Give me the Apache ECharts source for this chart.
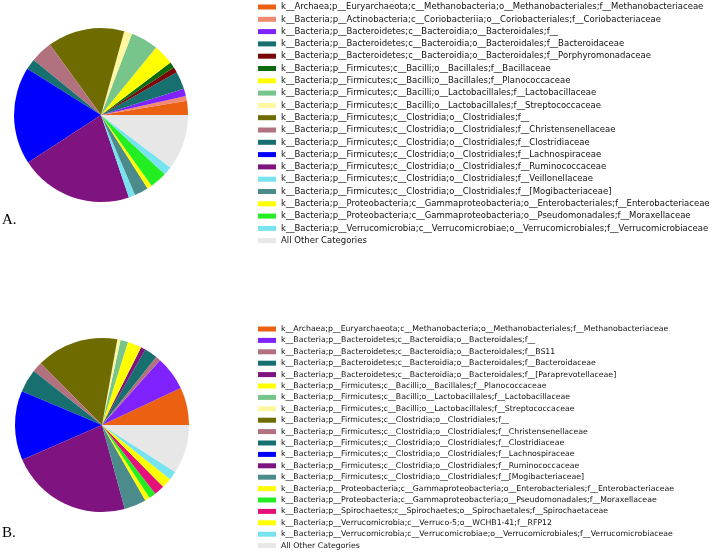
<!DOCTYPE html>
<html>
<head>
<meta charset="utf-8">
<script src="https://cdn.jsdelivr.net/npm/echarts@6/dist/echarts.min.js"></script>
<style>
html,body{margin:0;padding:0;background:#fff;}
#chart{width:714px;height:554px;}
</style>
</head>
<body>
<div id="chart"></div>
<script>
// ---- data ----
const namesA = [
  'k__Archaea;p__Euryarchaeota;c__Methanobacteria;o__Methanobacteriales;f__Methanobacteriaceae',
  'k__Bacteria;p__Actinobacteria;c__Coriobacteriia;o__Coriobacteriales;f__Coriobacteriaceae',
  'k__Bacteria;p__Bacteroidetes;c__Bacteroidia;o__Bacteroidales;f__',
  'k__Bacteria;p__Bacteroidetes;c__Bacteroidia;o__Bacteroidales;f__Bacteroidaceae',
  'k__Bacteria;p__Bacteroidetes;c__Bacteroidia;o__Bacteroidales;f__Porphyromonadaceae',
  'k__Bacteria;p__Firmicutes;c__Bacilli;o__Bacillales;f__Bacillaceae',
  'k__Bacteria;p__Firmicutes;c__Bacilli;o__Bacillales;f__Planococcaceae',
  'k__Bacteria;p__Firmicutes;c__Bacilli;o__Lactobacillales;f__Lactobacillaceae',
  'k__Bacteria;p__Firmicutes;c__Bacilli;o__Lactobacillales;f__Streptococcaceae',
  'k__Bacteria;p__Firmicutes;c__Clostridia;o__Clostridiales;f__',
  'k__Bacteria;p__Firmicutes;c__Clostridia;o__Clostridiales;f__Christensenellaceae',
  'k__Bacteria;p__Firmicutes;c__Clostridia;o__Clostridiales;f__Clostridiaceae',
  'k__Bacteria;p__Firmicutes;c__Clostridia;o__Clostridiales;f__Lachnospiraceae',
  'k__Bacteria;p__Firmicutes;c__Clostridia;o__Clostridiales;f__Ruminococcaceae',
  'k__Bacteria;p__Firmicutes;c__Clostridia;o__Clostridiales;f__Veillonellaceae',
  'k__Bacteria;p__Firmicutes;c__Clostridia;o__Clostridiales;f__[Mogibacteriaceae]',
  'k__Bacteria;p__Proteobacteria;c__Gammaproteobacteria;o__Enterobacteriales;f__Enterobacteriaceae',
  'k__Bacteria;p__Proteobacteria;c__Gammaproteobacteria;o__Pseudomonadales;f__Moraxellaceae',
  'k__Bacteria;p__Verrucomicrobia;c__Verrucomicrobiae;o__Verrucomicrobiales;f__Verrucomicrobiaceae',
  'All Other Categories'
];
const valuesA = [2.6, 0.9, 1.4, 3.3, 1.0, 1.1, 3.8, 5.1, 1.5, 14.3, 4.1, 2.0, 18.1, 21.0, 1.2, 2.6, 0.9, 3.2, 1.6, 10.3];

const namesB = [
  'k__Archaea;p__Euryarchaeota;c__Methanobacteria;o__Methanobacteriales;f__Methanobacteriaceae',
  'k__Bacteria;p__Bacteroidetes;c__Bacteroidia;o__Bacteroidales;f__',
  'k__Bacteria;p__Bacteroidetes;c__Bacteroidia;o__Bacteroidales;f__BS11',
  'k__Bacteria;p__Bacteroidetes;c__Bacteroidia;o__Bacteroidales;f__Bacteroidaceae',
  'k__Bacteria;p__Bacteroidetes;c__Bacteroidia;o__Bacteroidales;f__[Paraprevotellaceae]',
  'k__Bacteria;p__Firmicutes;c__Bacilli;o__Bacillales;f__Planococcaceae',
  'k__Bacteria;p__Firmicutes;c__Bacilli;o__Lactobacillales;f__Lactobacillaceae',
  'k__Bacteria;p__Firmicutes;c__Bacilli;o__Lactobacillales;f__Streptococcaceae',
  'k__Bacteria;p__Firmicutes;c__Clostridia;o__Clostridiales;f__',
  'k__Bacteria;p__Firmicutes;c__Clostridia;o__Clostridiales;f__Christensenellaceae',
  'k__Bacteria;p__Firmicutes;c__Clostridia;o__Clostridiales;f__Clostridiaceae',
  'k__Bacteria;p__Firmicutes;c__Clostridia;o__Clostridiales;f__Lachnospiraceae',
  'k__Bacteria;p__Firmicutes;c__Clostridia;o__Clostridiales;f__Ruminococcaceae',
  'k__Bacteria;p__Firmicutes;c__Clostridia;o__Clostridiales;f__[Mogibacteriaceae]',
  'k__Bacteria;p__Proteobacteria;c__Gammaproteobacteria;o__Enterobacteriales;f__Enterobacteriaceae',
  'k__Bacteria;p__Proteobacteria;c__Gammaproteobacteria;o__Pseudomonadales;f__Moraxellaceae',
  'k__Bacteria;p__Spirochaetes;c__Spirochaetes;o__Spirochaetales;f__Spirochaetaceae',
  'k__Bacteria;p__Verrucomicrobia;c__Verruco-5;o__WCHB1-41;f__RFP12',
  'k__Bacteria;p__Verrucomicrobia;c__Verrucomicrobiae;o__Verrucomicrobiales;f__Verrucomicrobiaceae',
  'All Other Categories'
];
const valuesB = [7.0, 6.4, 0.9, 2.4, 0.9, 2.6, 1.4, 0.6, 15.3, 1.9, 4.3, 12.9, 22.7, 4.1, 0.9, 1.3, 1.9, 1.9, 1.6, 9.1];

const panelLabels = ['A.', 'B.'];

// ---- palettes ----
const colorsA = ['#ec6012', '#f08a70', '#7f22ff', '#176f6f', '#7a0707', '#0d6b0d', '#ffff00', '#78c58c', '#fff6a0', '#6e6b00',
  '#b1717f', '#176f6f', '#0000ff', '#7f137f', '#76e3ee', '#4c8b8b', '#ffff00', '#22ee22', '#76e3ee', '#e7e7e7'];
const colorsB = ['#ec6012', '#7f22ff', '#b1717f', '#176f6f', '#7f137f', '#ffff00', '#78c58c', '#fff6a0', '#6e6b00', '#b1717f',
  '#176f6f', '#0000ff', '#7f137f', '#4c8b8b', '#ffff00', '#22ee22', '#e5107a', '#ffff00', '#76e3ee', '#e7e7e7'];

function mk(names, values, colors) {
  return names.map((n, i) => ({ name: n, value: values[i], itemStyle: { color: colors[i] } }));
}

const chart = echarts.init(document.getElementById('chart'), null, { renderer: 'canvas' });
const pieBase = {
  type: 'pie',
  radius: 87,
  startAngle: 0,
  clockwise: false,
  label: { show: false },
  labelLine: { show: false },
  emphasis: { disabled: true },
  itemStyle: { borderWidth: 0 },
  avoidLabelOverlap: false,
  minAngle: 0
};
const legendBase = {
  orient: 'vertical',
  left: 258,
  icon: 'rect',
  itemWidth: 18,
  itemHeight: 5,
  padding: 0,
  selectedMode: false,
  textStyle: { fontFamily: 'DejaVu Sans', color: '#111', lineHeight: 10 }
};
chart.setOption({
  animation: false,
  legend: [
    Object.assign({}, legendBase, {
      top: 2, itemGap: 2.3, data: namesA,
      textStyle: Object.assign({}, legendBase.textStyle, { fontSize: 8.5 })
    }),
    Object.assign({}, legendBase, {
      top: 324, itemGap: 1.4, data: namesB,
      textStyle: Object.assign({}, legendBase.textStyle, { fontSize: 7.8 })
    })
  ],
  title: [
    { text: panelLabels[0], left: 2, top: 213, padding: 0,
      textStyle: { fontFamily: 'Liberation Serif', fontWeight: 'normal', fontSize: 15, color: '#000' } },
    { text: panelLabels[1], left: 2, top: 526, padding: 0,
      textStyle: { fontFamily: 'Liberation Serif', fontWeight: 'normal', fontSize: 15, color: '#000' } }
  ],
  series: [
    Object.assign({}, pieBase, { name: 'A', center: [101, 115], data: mk(namesA, valuesA, colorsA) }),
    Object.assign({}, pieBase, { name: 'B', center: [102, 425], data: mk(namesB, valuesB, colorsB) })
  ]
});
</script>
</body>
</html>
